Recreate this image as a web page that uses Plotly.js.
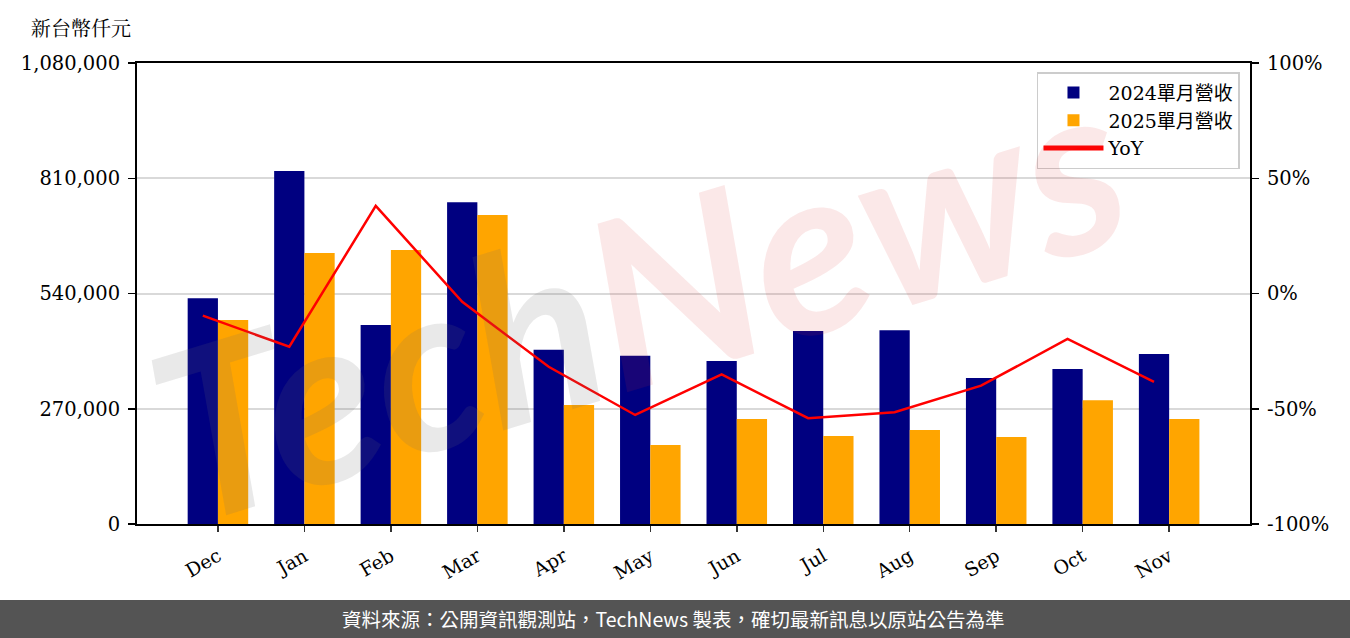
<!DOCTYPE html>
<html>
<head>
<meta charset="utf-8">
<script src="https://cdn.plot.ly/plotly-3.0.1.min.js"></script>
<style>
html,body{margin:0;padding:0;background:#fff;}
#chart{width:1350px;height:638px;}
</style>
</head>
<body>
<div id="chart"></div>
<script>
const months = ['Dec','Jan','Feb','Mar','Apr','May','Jun','Jul','Aug','Sep','Oct','Nov'];
const rev2024 = [529000, 827000, 466000, 754000, 408000, 394000, 382000, 452000, 454000, 342000, 363000, 398000];
const rev2025 = [478000, 635000, 642000, 724000, 279000, 185000, 246000, 206000, 220000, 204000, 290000, 246000];
const yoyPct = [-9.6, -23.1, 38.0, -3.6, -31.8, -52.7, -35.1, -54.1, -51.5, -40.0, -19.7, -38.3];
const leftTicks = [0, 270000, 540000, 810000, 1080000];
const leftTickText = ['0', '270,000', '540,000', '810,000', '1,080,000'];
const rightTicks = [-100, -50, 0, 50, 100];
const rightTickText = ['-100%', '-50%', '0%', '50%', '100%'];
const seriesNames = ['2024單月營收', '2025單月營收', 'YoY'];
const yUnit = '新台幣仟元';
const footer = '資料來源：公開資訊觀測站，TechNews 製表，確切最新訊息以原站公告為準';

const W = 0.35;
const idx = months.map((_, i) => i);
const FONT = 'DejaVu Serif, Noto Sans CJK TC, serif';

const traces = [
  {type:'bar', name:seriesNames[0], x:idx.map(i=>i - W/2), y:rev2024, width:W,
   marker:{color:'#000080'}, hoverinfo:'y'},
  {type:'bar', name:seriesNames[1], x:idx.map(i=>i + W/2), y:rev2025, width:W,
   marker:{color:'#FFA500'}, hoverinfo:'y'},
  {type:'scatter', mode:'lines', name:seriesNames[2], x:idx.map(i=>i - W/2), y:yoyPct,
   yaxis:'y2', line:{color:'#FF0000', width:2.5}}
];

const layout = {
  width:1350, height:638,
  margin:{l:137, r:100, t:63, b:114, pad:0},
  paper_bgcolor:'#ffffff', plot_bgcolor:'#ffffff',
  font:{family:FONT, size:19, color:'#000'},
  barmode:'overlay',
  showlegend:true,
  legend:{x:0.991, xanchor:'right', y:0.98, yanchor:'top',
          bgcolor:'rgba(255,255,255,0.85)', bordercolor:'#cccccc', borderwidth:1.5,
          font:{family:FONT, size:19, color:'#000'}, tracegroupgap:0, itemwidth:60,
          itemsizing:'constant'},
  xaxis:{range:[-0.936, 11.935], tickvals:idx, ticktext:months, tickangle:-30,
         showline:true, linecolor:'#000', linewidth:2, mirror:true,
         ticks:'outside', ticklen:6, tickwidth:1.5, tickcolor:'#333',
         ticklabelstandoff:6,
         showgrid:false, zeroline:false, tickfont:{family:FONT, size:19, color:'#000'}},
  yaxis:{range:[0, 1080000], tickvals:leftTicks, ticktext:leftTickText,
         showline:true, linecolor:'#000', linewidth:2,
         ticks:'outside', ticklen:7, tickwidth:1.5, tickcolor:'#000',
         ticklabelstandoff:4,
         showgrid:true, gridcolor:'#d9d9d9', gridwidth:2, zeroline:false,
         tickfont:{family:FONT, size:19.5, color:'#000'}},
  yaxis2:{range:[-100, 100], tickvals:rightTicks, ticktext:rightTickText,
          overlaying:'y', side:'right', showline:true, linecolor:'#000', linewidth:2,
          ticks:'outside', ticklen:7, tickwidth:1.5, tickcolor:'#000',
          ticklabelstandoff:4,
          showgrid:false, zeroline:false,
          tickfont:{family:FONT, size:19.5, color:'#000'}},
  shapes:[
    {type:'rect', xref:'paper', yref:'paper', x0:-137/1113, x1:1213/1113,
     y0:-114/461, y1:-76/461, fillcolor:'#545454', line:{width:0}, layer:'above'}
  ],
  annotations:[
    {xref:'paper', yref:'paper', x:-0.0503, y:1.078, text:yUnit, showarrow:false,
     font:{family:'Noto Serif CJK TC, Noto Sans CJK TC, serif', size:20, color:'#000'},
     xanchor:'center', yanchor:'middle'},
    {xref:'paper', yref:'paper', x:0.482, y:-0.206, text:footer, showarrow:false,
     font:{family:'Noto Sans CJK TC, sans-serif', size:19.5, color:'#ffffff'},
     xanchor:'center', yanchor:'middle'},
    {xref:'paper', yref:'paper', x:0.45, y:0.50, showarrow:false, textangle:-17,
     text:'<span style="color:rgba(110,110,110,0.15)">Tech</span><span style="color:rgba(215,50,50,0.11)">News</span>',
     font:{family:'Lato, sans-serif', size:235, color:'#000000', weight:700, style:'italic'},
     xanchor:'center', yanchor:'middle'}
  ]
};

Plotly.newPlot('chart', traces, layout, {displayModeBar:false, staticPlot:true});
</script>
</body>
</html>
